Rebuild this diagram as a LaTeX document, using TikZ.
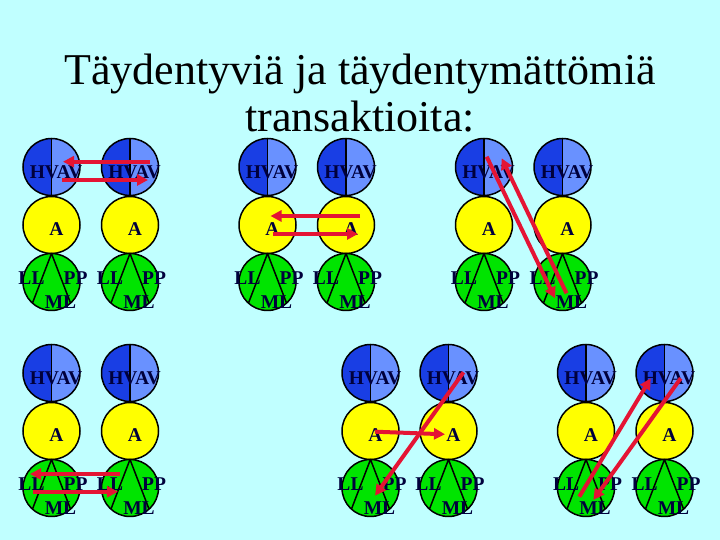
\documentclass[tikz,border=0pt]{standalone}
\usepackage{fontspec}
\setmainfont{Liberation Serif}
\usetikzlibrary{arrows.meta}

\definecolor{tausta}{RGB}{192,255,255}
\definecolor{tumma}{RGB}{25,62,228}
\definecolor{vaalea}{RGB}{105,145,255}
\definecolor{keltainen}{RGB}{255,255,0}
\definecolor{vihrea}{RGB}{0,228,0}
\definecolor{punainen}{RGB}{228,20,52}
\definecolor{teksti}{RGB}{0,0,60}

\tikzset{
  reuna/.style={draw=black, line width=1.5pt},
  pallo/.style={circle, reuna, inner sep=0pt, outer sep=0pt, minimum size=57pt},
  ylapallo/.style={pallo, fill=vaalea,
    path picture={\fill[tumma] (path picture bounding box.south west) rectangle (path picture bounding box.north);}},
  keltapallo/.style={pallo, fill=keltainen},
  viherpallo/.style={pallo, fill=vihrea},
  merkki/.style={anchor=base, inner sep=0pt, text=teksti, font=\rmfamily\fontsize{19.5}{19.5}\selectfont\bfseries},
  nuoli/.style={draw=punainen, line width=4pt, -{Triangle[length=11pt,width=11pt]}}
}

% one column: name, x and y of the top circle
\newcommand{\pylvas}[3]{%
  \node[ylapallo] (#1-hv) at (#2,#3) {};
  \draw[reuna] (#1-hv.north) -- (#1-hv.south);
  \node[keltapallo] (#1-a) at (#2,#3-58) {};
  \node[viherpallo] (#1-m) at (#2,#3-115) {};
  \draw[reuna] (#1-m.north) -- (#1-m.228) (#1-m.north) -- (#1-m.312);
  \node[merkki] (#1-hvt) at ([shift={(4.5,-11.5)}]#1-hv.center) {HVAV};
  \node[merkki] (#1-at) at ([shift={(5,-11)}]#1-a.center) {A};
  \node[merkki] (#1-ll) at ([shift={(-20,-3)}]#1-m.center) {LL};
  \node[merkki] (#1-pp) at ([shift={(24,-3)}]#1-m.center) {PP};
  \node[merkki] (#1-ml) at ([shift={(9,-27)}]#1-m.center) {ML};
}

\begin{document}
\begin{tikzpicture}[x=1pt, y=1pt]
\fill[tausta] (0,0) rectangle (720,540);
\useasboundingbox (0,0) rectangle (720,540);

\node[anchor=base, align=center, inner sep=0pt, font=\rmfamily\fontsize{44}{47}\selectfont] (otsikko) at (360,408)
  {Täydentyviä ja täydentymättömiä\\transaktioita:};

% upper row
\pylvas{p1}{51.5}{373}
\pylvas{p2}{130}{373}
\pylvas{p3}{267.5}{373}
\pylvas{p4}{346}{373}
\pylvas{p5}{484}{373}
\pylvas{p6}{562.5}{373}
% lower row
\pylvas{q1}{51.5}{167}
\pylvas{q2}{130}{167}
\pylvas{q3}{370.5}{167}
\pylvas{q4}{448.5}{167}
\pylvas{q5}{586}{167}
\pylvas{q6}{664.5}{167}

% transactions
\draw[nuoli] ([shift={(20,5.3)}]p2-hv.center) -- ([shift={(11.5,5.3)}]p1-hv.center);
\draw[nuoli] ([shift={(10.5,-13)}]p1-hv.center) -- ([shift={(18,-13)}]p2-hv.center);
\draw[nuoli] ([shift={(14,9)}]p4-a.center) -- ([shift={(3,9)}]p3-a.center);
\draw[nuoli] ([shift={(5,-9)}]p3-a.center) -- ([shift={(12,-9)}]p4-a.center);
\draw[nuoli] ([shift={(2.7,10.3)}]p5-hv.center) -- ([shift={(-7.5,-16.3)}]p6-m.center);
\draw[nuoli] ([shift={(4,-11.3)}]p6-m.center) -- ([shift={(17.7,8.7)}]p5-hv.center);

\draw[nuoli] ([shift={(-10,14)}]q2-m.center) -- ([shift={(-21.5,14)}]q1-m.center);
\draw[nuoli] ([shift={(-18.5,-3.7)}]q1-m.center) -- ([shift={(-12,-3.7)}]q2-m.center);
\draw[nuoli] ([shift={(4.5,-0.7)}]q3-a.center) -- ([shift={(-3.5,-3.3)}]q4-a.center);
\draw[nuoli] ([shift={(15,0.7)}]q4-hv.center) -- ([shift={(4.5,-7.7)}]q3-m.center);
\draw[nuoli] ([shift={(-6.7,-8.7)}]q5-m.center) -- ([shift={(-13.8,-5.3)}]q6-hv.center);
\draw[nuoli] ([shift={(16.2,-5.3)}]q6-hv.center) -- ([shift={(7.3,-12)}]q5-m.center);
\end{tikzpicture}
\end{document}
